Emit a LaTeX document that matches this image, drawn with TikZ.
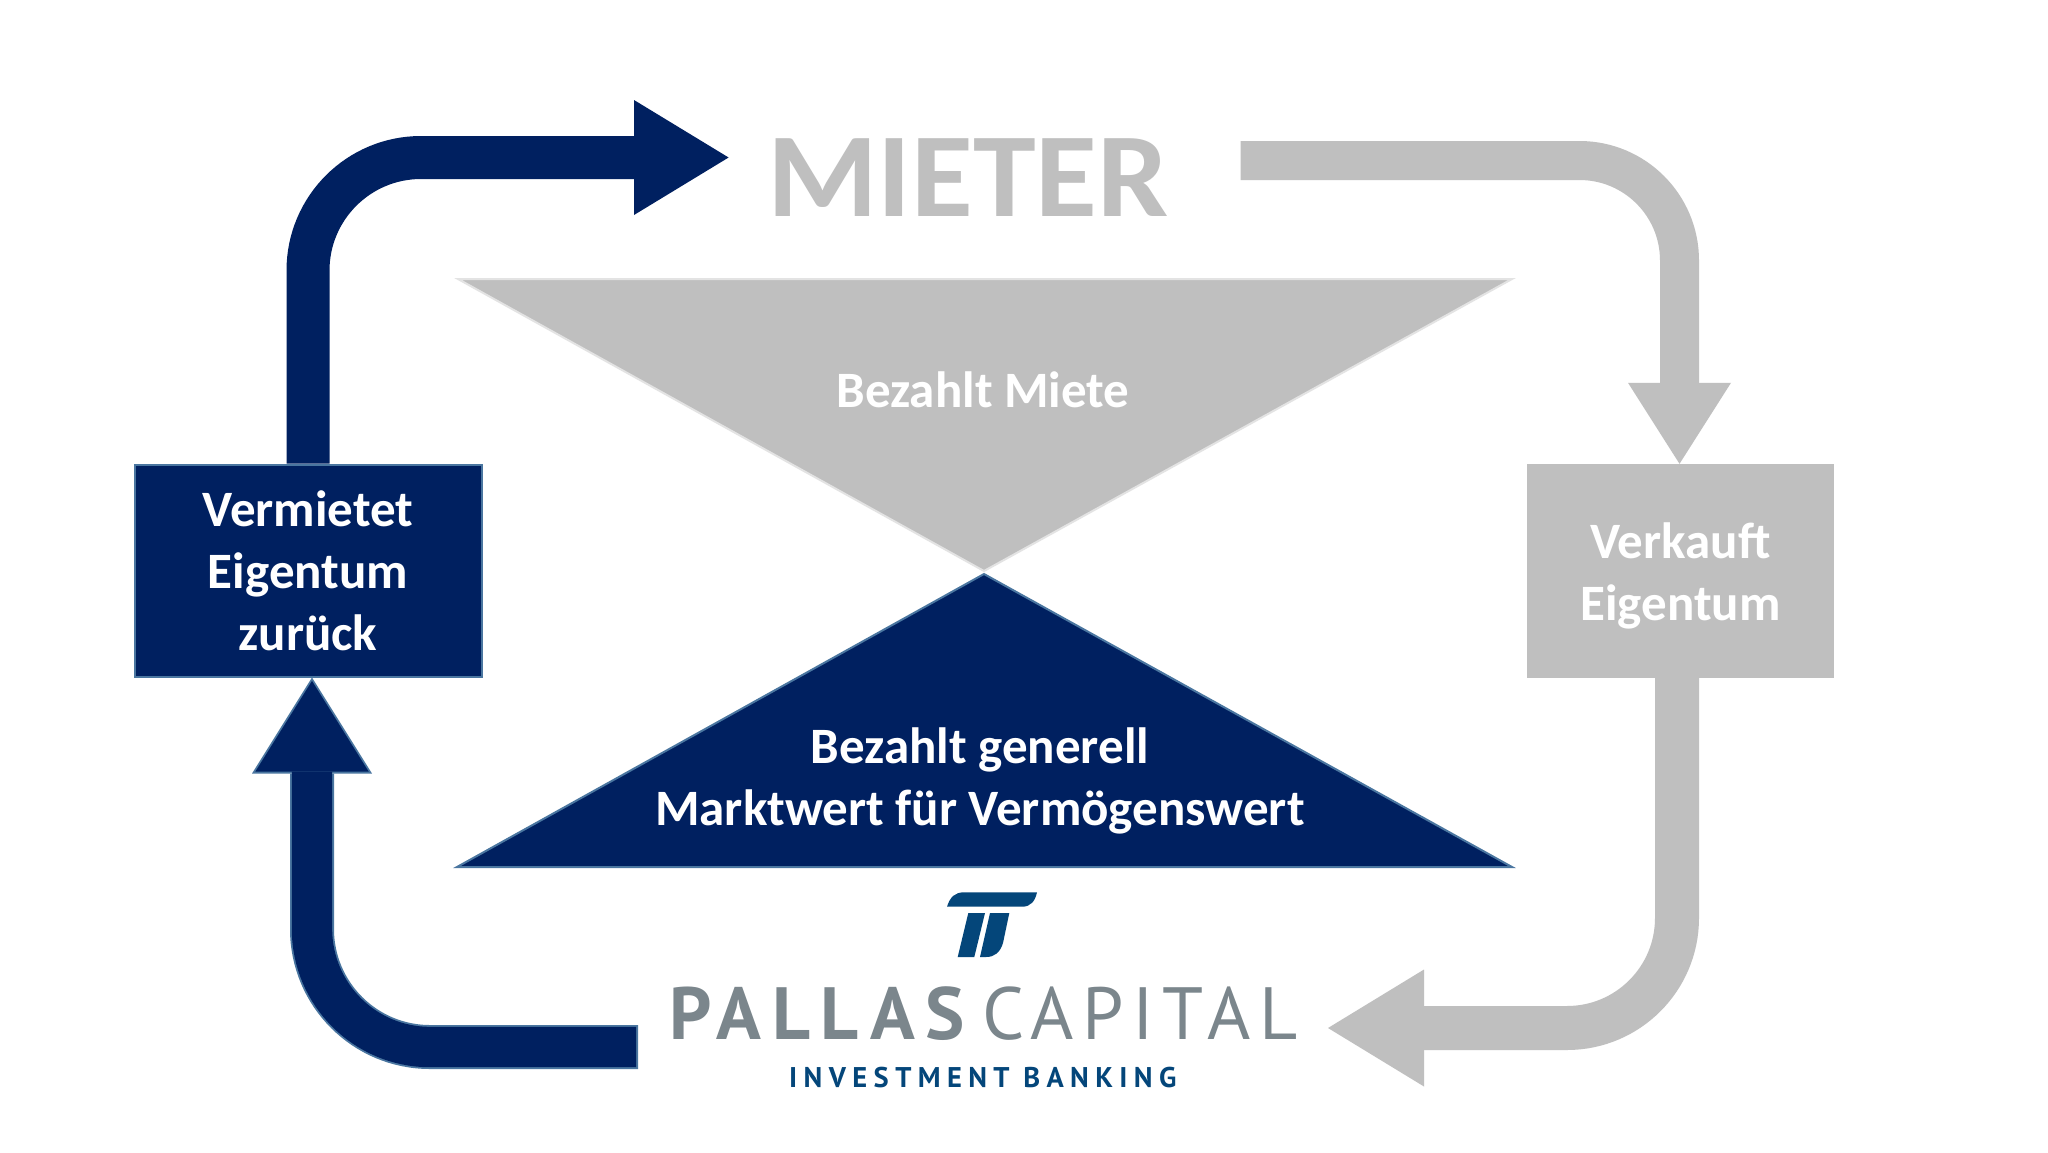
\documentclass[tikz,border=0pt]{standalone}
\usepackage{fontspec}
\setmainfont{Carlito}
\newfontfamily\logoA[LetterSpace=14.5]{PT Sans}
\newfontfamily\logoB[LetterSpace=11.6]{PT Sans}
\newfontfamily\logoC[LetterSpace=22.5]{PT Sans}
\usetikzlibrary{arrows.meta}
\definecolor{navy}{HTML}{002060}
\definecolor{navyedge}{HTML}{4A76A0}
\definecolor{flowgray}{HTML}{BFBFBF}
\definecolor{grayedge}{HTML}{E3E3E3}
\definecolor{logogray}{HTML}{7B868C}
\definecolor{logoblue}{HTML}{04467A}
\newcommand{\boxtext}[2]{\raisebox{#1}[0pt][0pt]{\begin{tabular}{@{}c@{}}#2\end{tabular}}}
\tikzset{
  lbl/.style={inner sep=0pt,align=center,text=white,font=\fontsize{51}{62}\selectfont\bfseries},
  bluebox/.style={rectangle,draw=navyedge,fill=navy,line width=2pt,inner sep=0pt,text=white,font=\fontsize{51}{62}\selectfont\bfseries},
  graybox/.style={rectangle,fill=flowgray,inner sep=0pt,text=white,font=\fontsize{51}{62}\selectfont\bfseries},
  grayflow/.style={draw=flowgray,line join=miter},
  navyflow/.style={draw=navy,line join=miter},
  edgeflow/.style={draw=navyedge,line join=miter},
}
\begin{document}
\begin{tikzpicture}[x=1pt,y=-1pt]
\useasboundingbox (0,0) rectangle (2048,1152);
\fill[white] (0,0) rectangle (2048,1152);

% central triangles
\path[fill=flowgray,draw=grayedge,line width=2pt] (458,279) -- (1512,279) -- (984,571) -- cycle;
\path[fill=navy,draw=navyedge,line width=2pt,line join=miter] (984,574) -- (1512,867) -- (457,867) -- cycle;

% nodes
\node[bluebox,minimum width=347pt,minimum height=212pt] (verm) at (308,570.5) {\boxtext{-12.25pt}{Vermietet\\Eigentum\\zurück}};
\node[graybox,minimum width=307pt,minimum height=214pt] (verk) at (1680.5,571) {\boxtext{-12.75pt}{Verkauft\\Eigentum}};
\node[inner sep=0pt,text=flowgray,font=\fontsize{120}{120}\selectfont\bfseries,anchor=base] (mieter) at (968,216) {\scalebox{1.055}[1]{MIETER}};
\node[lbl,anchor=base] (miete) at (983,407) {Bezahlt Miete};
\node[lbl] (markt) at (980,781) {Bezahlt generell\\Marktwert für Vermögenswert};
\node[inner sep=0pt,text=logogray,anchor=base west,font=\logoA\bfseries\fontsize{74}{74}\selectfont] (pallas) at (669,1039) {PALLAS};
\node[inner sep=0pt,text=logogray,anchor=base west,font=\logoB\fontsize{74}{74}\selectfont] (capital) at (982,1039) {CAPITAL};
\node[inner sep=0pt,text=logoblue,anchor=base west,font=\logoC\bfseries\fontsize{28.5}{28.5}\selectfont] (invest) at (789,1087) {INVESTMENT BANKING};

% free ends of the connectors beside the texts and the logo
\coordinate (mieterIn) at (728.6,157.5);
\coordinate (mieterOut) at (1240.6,160.5);
\coordinate (logoIn) at (1328,1028);
\coordinate (logoOut) at (638,1047);

% connectors
\draw[navyflow,line width=43pt,rounded corners=113pt,-{Triangle[length=94.6pt,width=115pt,line width=0pt]}] (verm.north) |- (mieterIn);
\draw[grayflow,line width=39pt,rounded corners=100pt,-{Triangle[length=81pt,width=103pt,line width=0pt]}] (mieterOut) -| ([xshift=-1pt]verk.north);
\draw[grayflow,line width=44pt,rounded corners=110pt,-{Triangle[length=96pt,width=117pt,line width=0pt]}] ([xshift=-3.5pt]verk.south) |- (logoIn);
\draw[edgeflow,line width=44pt,rounded corners=118pt,-{Triangle[length=96pt,width=120pt,line width=0pt]}] (logoOut) -| ([xshift=4pt]verm.south);
\draw[navyflow,line width=40.4pt,rounded corners=118pt,shorten <=1.8pt,shorten >=3.4pt,-{Triangle[length=90.8pt,width=113.5pt,line width=0pt]}] (logoOut) -| ([xshift=4pt]verm.south);

% logo mark
\fill[logoblue] (947,906.7) .. controls (950,897) and (955,892.3) .. (964,892.3) -- (1037,892.3)
  .. controls (1035,901) and (1031,906.7) .. (1022,906.7) -- cycle;
\fill[logoblue] (968.3,913) -- (985,913) -- (974.3,957) -- (957.7,957) -- cycle;
\fill[logoblue] (990,913) -- (1009.3,913) -- (1003,943) .. controls (1000,953) and (994,957) .. (986,957) -- (980,957) -- cycle;
\end{tikzpicture}
\end{document}
